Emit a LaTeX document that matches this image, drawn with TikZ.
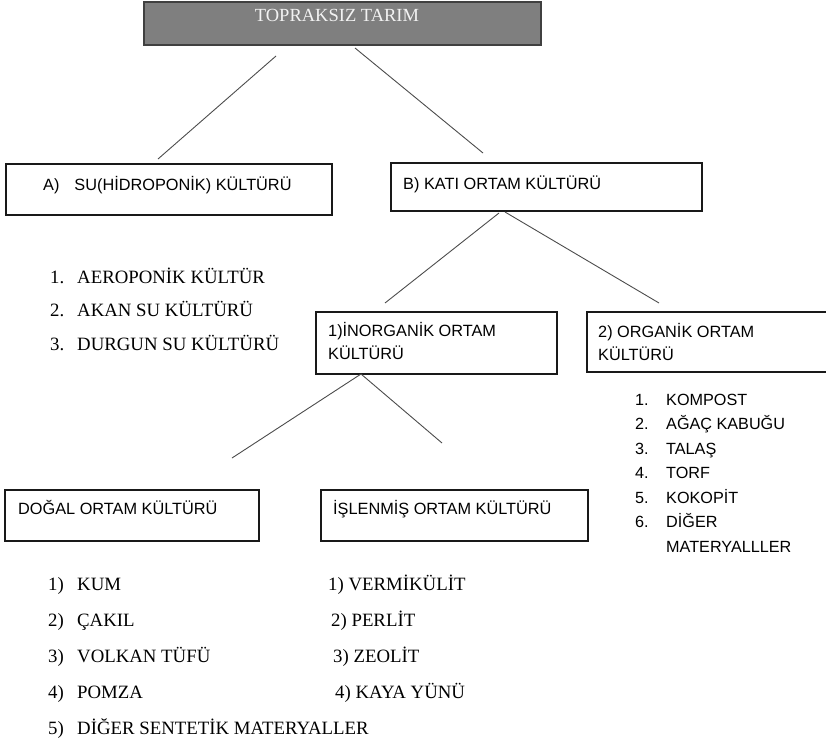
\documentclass[tikz,border=0pt]{standalone}
\usepackage{fontspec}
\setmainfont{Liberation Serif}
\newfontfamily\boxfont{Liberation Sans}
\definecolor{titlefill}{HTML}{7F7F7F}
\definecolor{titletext}{HTML}{F2F2F2}
\begin{document}
\begin{tikzpicture}[x=1pt,y=-1pt,
  box/.style={draw=black!90, line width=1.5pt, fill=white, inner sep=0pt, anchor=north west},
  conn/.style={draw=black!70, line width=0.9pt},
  stxt/.style={anchor=base west, inner sep=0pt, font=\boxfont\fontsize{16.3}{23.5}\selectfont},
  rtxt/.style={anchor=base west, inner sep=0pt, font=\fontsize{18.8}{33.5}\selectfont}]
\useasboundingbox (0,0) rectangle (826,739);
\clip (0,0) rectangle (826,739);

% boxes
\node[box, fill=titlefill, draw=black!75, minimum width=397pt, minimum height=43pt] (top) at (143,1) {};
\node[box, minimum width=326pt, minimum height=51pt] (A) at (5,163) {};
\node[box, minimum width=311pt, minimum height=48pt] (B) at (390,162) {};
\node[box, minimum width=241pt, minimum height=62pt] (inorg) at (315,311) {};
\node[box, minimum width=244pt, minimum height=60pt] (org) at (586,311) {};
\node[box, minimum width=254pt, minimum height=51pt] (dogal) at (4,489) {};
\node[box, minimum width=267pt, minimum height=51pt] (islen) at (320,489) {};

% box texts
\node[anchor=base, inner sep=0pt, text=titletext, font=\fontsize{18.5}{22}\selectfont] (topt) at (337,21.5) {TOPRAKSIZ TARIM};
\node[stxt] (At) at (43,190) {A)\hspace{15pt}SU(HİDROPONİK) KÜLTÜRÜ};
\node[stxt] (Bt) at (403,189) {B) KATI ORTAM KÜLTÜRÜ};
\node[stxt] (inorgt) at (328,336) {\begin{tabular}[t]{@{}l@{}}1)İNORGANİK ORTAM\\KÜLTÜRÜ\end{tabular}};
\node[stxt] (orgt) at (598,337) {\begin{tabular}[t]{@{}l@{}}2) ORGANİK ORTAM\\KÜLTÜRÜ\end{tabular}};
\node[stxt] (dogalt) at (18,514) {DOĞAL ORTAM KÜLTÜRÜ};
\node[stxt] (islent) at (333,514) {İŞLENMİŞ ORTAM KÜLTÜRÜ};

% lists
\node[rtxt] (sulist) at (50,283) {\begin{tabular}[t]{@{}p{27pt}@{}l@{}}1.&AEROPONİK KÜLTÜR\\2.&AKAN SU KÜLTÜRÜ\\3.&DURGUN SU KÜLTÜRÜ\end{tabular}};
\node[stxt, font=\boxfont\fontsize{16.2}{24.5}\selectfont] (orglist) at (635,405) {\begin{tabular}[t]{@{}p{31pt}@{}l@{}}1.&KOMPOST\\2.&AĞAÇ KABUĞU\\3.&TALAŞ\\4.&TORF\\5.&KOKOPİT\\6.&DİĞER\\&MATERYALLLER\end{tabular}};
\node[rtxt, font=\fontsize{18.8}{36.2}\selectfont] (dogallist) at (48,590) {\begin{tabular}[t]{@{}p{29pt}@{}l@{}}1)&KUM\\2)&ÇAKIL\\3)&VOLKAN TÜFÜ\\4)&POMZA\\5)&DİĞER SENTETİK MATERYALLER\end{tabular}};
\node[rtxt, font=\fontsize{18.8}{36.2}\selectfont] (islenlist) at (328,590) {\begin{tabular}[t]{@{}l@{}}1) VERMİKÜLİT\\\hspace*{3pt}2) PERLİT\\\hspace*{5pt}3) ZEOLİT\\\hspace*{7pt}4) KAYA YÜNÜ\end{tabular}};

% connector ends
\coordinate (topL) at (276,56);
\coordinate (topR) at (355,48);
\coordinate (Aend) at (158,159);
\coordinate (Bend) at (483,153);
\coordinate (BL) at (499,213);
\coordinate (BR) at (505,212);
\coordinate (inorgend) at (385,303);
\coordinate (orgend) at (659,303);
\coordinate (inorgS) at (361,374);
\coordinate (dogalend) at (232,458);
\coordinate (islenend) at (442,443);

\draw[conn] (topL) -- (Aend);
\draw[conn] (topR) -- (Bend);
\draw[conn] (BL) -- (inorgend);
\draw[conn] (BR) -- (orgend);
\draw[conn] (inorgS) -- (dogalend);
\draw[conn] (inorgS) -- (islenend);
\end{tikzpicture}
\end{document}
